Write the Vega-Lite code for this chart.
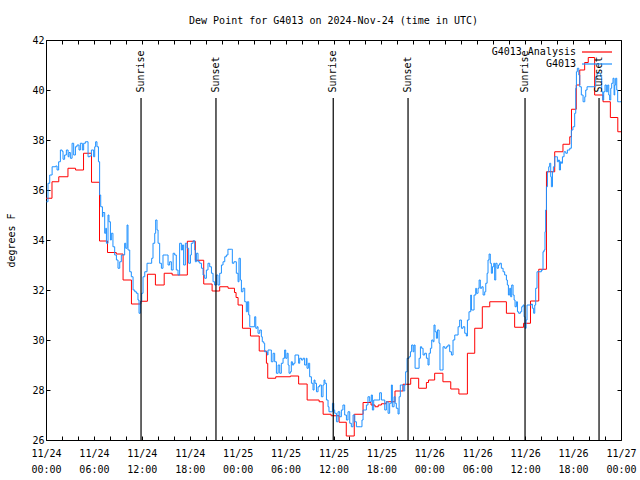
{
"$schema": "https://vega.github.io/schema/vega-lite/v6.json",
"width": 575, "height": 400,
"autosize": "none",
"padding": {"left": 46, "top": 40, "right": 19, "bottom": 40},
"background": "white",
"title": {"text": "Dew Point for G4013 on 2024-Nov-24 (time in UTC)", "font": "DejaVu Sans Mono", "fontSize": 10, "fontWeight": "normal", "anchor": "middle", "offset": 9, "color": "black"},
"config": {
 "view": {"stroke": "black", "strokeWidth": 1},
 "font": "DejaVu Sans Mono",
 "axis": {"labelFont": "DejaVu Sans Mono", "labelFontSize": 10, "labelColor": "black", "titleFont": "DejaVu Sans Mono", "titleFontSize": 10, "titleFontWeight": "normal", "titleColor": "black", "tickColor": "black", "domain": false, "grid": false},
 "legend": {"orient": "top-right", "offset": 6, "padding": 0, "symbolType": "M-3,0H3", "symbolSize": 100, "symbolStrokeWidth": 1.2, "labelAlign": "right", "labelOffset": -27, "labelFont": "DejaVu Sans Mono", "labelFontSize": 10, "labelColor": "black", "rowPadding": 1}
},
"datasets": {
 "sun": [
  {"t":"2024-11-24T11:54Z","label":"Sunrise"},{"t":"2024-11-24T21:17Z","label":"Sunset"},
  {"t":"2024-11-25T11:58Z","label":"Sunrise"},{"t":"2024-11-25T21:20Z","label":"Sunset"},
  {"t":"2024-11-26T11:59Z","label":"Sunrise"},{"t":"2024-11-26T21:15Z","label":"Sunset"}
 ],
 "obs": [
  {"s":"G4013 Analysis","t":"2024-11-24T00:00Z","v":35.67},
  {"s":"G4013 Analysis","t":"2024-11-24T00:45Z","v":36.33},
  {"s":"G4013 Analysis","t":"2024-11-24T01:36Z","v":36.53},
  {"s":"G4013 Analysis","t":"2024-11-24T02:45Z","v":36.87},
  {"s":"G4013 Analysis","t":"2024-11-24T03:42Z","v":36.8},
  {"s":"G4013 Analysis","t":"2024-11-24T04:42Z","v":37.47},
  {"s":"G4013 Analysis","t":"2024-11-24T05:42Z","v":36.31},
  {"s":"G4013 Analysis","t":"2024-11-24T06:42Z","v":33.96},
  {"s":"G4013 Analysis","t":"2024-11-24T07:42Z","v":33.5},
  {"s":"G4013 Analysis","t":"2024-11-24T08:48Z","v":33.44},
  {"s":"G4013 Analysis","t":"2024-11-24T09:39Z","v":32.4},
  {"s":"G4013 Analysis","t":"2024-11-24T10:42Z","v":31.44},
  {"s":"G4013 Analysis","t":"2024-11-24T11:52Z","v":31.55},
  {"s":"G4013 Analysis","t":"2024-11-24T12:42Z","v":32.63},
  {"s":"G4013 Analysis","t":"2024-11-24T13:42Z","v":32.2},
  {"s":"G4013 Analysis","t":"2024-11-24T14:48Z","v":32.67},
  {"s":"G4013 Analysis","t":"2024-11-24T15:48Z","v":32.6},
  {"s":"G4013 Analysis","t":"2024-11-24T17:42Z","v":33.95},
  {"s":"G4013 Analysis","t":"2024-11-24T18:42Z","v":33.19},
  {"s":"G4013 Analysis","t":"2024-11-24T19:45Z","v":32.24},
  {"s":"G4013 Analysis","t":"2024-11-24T20:48Z","v":31.96},
  {"s":"G4013 Analysis","t":"2024-11-24T21:45Z","v":32.13},
  {"s":"G4013 Analysis","t":"2024-11-24T22:48Z","v":32.07},
  {"s":"G4013 Analysis","t":"2024-11-24T23:36Z","v":31.9},
  {"s":"G4013 Analysis","t":"2024-11-24T23:48Z","v":31.7},
  {"s":"G4013 Analysis","t":"2024-11-25T00:03Z","v":31.4},
  {"s":"G4013 Analysis","t":"2024-11-25T00:36Z","v":30.47},
  {"s":"G4013 Analysis","t":"2024-11-25T01:36Z","v":30.16},
  {"s":"G4013 Analysis","t":"2024-11-25T02:42Z","v":29.56},
  {"s":"G4013 Analysis","t":"2024-11-25T03:36Z","v":29.07},
  {"s":"G4013 Analysis","t":"2024-11-25T03:46Z","v":28.47},
  {"s":"G4013 Analysis","t":"2024-11-25T04:46Z","v":28.53},
  {"s":"G4013 Analysis","t":"2024-11-25T06:36Z","v":28.56},
  {"s":"G4013 Analysis","t":"2024-11-25T07:38Z","v":28.24},
  {"s":"G4013 Analysis","t":"2024-11-25T08:42Z","v":27.6},
  {"s":"G4013 Analysis","t":"2024-11-25T10:12Z","v":27.53},
  {"s":"G4013 Analysis","t":"2024-11-25T10:42Z","v":27.03},
  {"s":"G4013 Analysis","t":"2024-11-25T11:42Z","v":26.97},
  {"s":"G4013 Analysis","t":"2024-11-25T12:42Z","v":26.71},
  {"s":"G4013 Analysis","t":"2024-11-25T13:36Z","v":26.16},
  {"s":"G4013 Analysis","t":"2024-11-25T14:36Z","v":27.03},
  {"s":"G4013 Analysis","t":"2024-11-25T15:42Z","v":27.5},
  {"s":"G4013 Analysis","t":"2024-11-25T16:42Z","v":27.4},
  {"s":"G4013 Analysis","t":"2024-11-25T17:12Z","v":27.33},
  {"s":"G4013 Analysis","t":"2024-11-25T17:36Z","v":27.4},
  {"s":"G4013 Analysis","t":"2024-11-25T18:00Z","v":27.45},
  {"s":"G4013 Analysis","t":"2024-11-25T18:36Z","v":27.53},
  {"s":"G4013 Analysis","t":"2024-11-25T19:42Z","v":27.96},
  {"s":"G4013 Analysis","t":"2024-11-25T20:42Z","v":28.23},
  {"s":"G4013 Analysis","t":"2024-11-25T21:40Z","v":28.47},
  {"s":"G4013 Analysis","t":"2024-11-25T22:40Z","v":28.07},
  {"s":"G4013 Analysis","t":"2024-11-25T23:38Z","v":28.3},
  {"s":"G4013 Analysis","t":"2024-11-25T23:54Z","v":28.4},
  {"s":"G4013 Analysis","t":"2024-11-26T00:40Z","v":28.67},
  {"s":"G4013 Analysis","t":"2024-11-26T01:42Z","v":28.33},
  {"s":"G4013 Analysis","t":"2024-11-26T02:41Z","v":28.04},
  {"s":"G4013 Analysis","t":"2024-11-26T03:42Z","v":27.84},
  {"s":"G4013 Analysis","t":"2024-11-26T04:46Z","v":29.47},
  {"s":"G4013 Analysis","t":"2024-11-26T05:41Z","v":30.47},
  {"s":"G4013 Analysis","t":"2024-11-26T06:38Z","v":31.33},
  {"s":"G4013 Analysis","t":"2024-11-26T07:34Z","v":31.53},
  {"s":"G4013 Analysis","t":"2024-11-26T09:39Z","v":31.07},
  {"s":"G4013 Analysis","t":"2024-11-26T10:41Z","v":30.51},
  {"s":"G4013 Analysis","t":"2024-11-26T11:48Z","v":30.67},
  {"s":"G4013 Analysis","t":"2024-11-26T12:40Z","v":31.56},
  {"s":"G4013 Analysis","t":"2024-11-26T13:42Z","v":32.83},
  {"s":"G4013 Analysis","t":"2024-11-26T14:40Z","v":36.73},
  {"s":"G4013 Analysis","t":"2024-11-26T15:42Z","v":37.53},
  {"s":"G4013 Analysis","t":"2024-11-26T16:44Z","v":37.83},
  {"s":"G4013 Analysis","t":"2024-11-26T17:35Z","v":38.13},
  {"s":"G4013 Analysis","t":"2024-11-26T17:48Z","v":39.23},
  {"s":"G4013 Analysis","t":"2024-11-26T18:24Z","v":40.2},
  {"s":"G4013 Analysis","t":"2024-11-26T18:50Z","v":40.8},
  {"s":"G4013 Analysis","t":"2024-11-26T19:27Z","v":41.1},
  {"s":"G4013 Analysis","t":"2024-11-26T19:54Z","v":41.3},
  {"s":"G4013 Analysis","t":"2024-11-26T20:42Z","v":39.8},
  {"s":"G4013 Analysis","t":"2024-11-26T21:45Z","v":39.53},
  {"s":"G4013 Analysis","t":"2024-11-26T22:40Z","v":38.9},
  {"s":"G4013 Analysis","t":"2024-11-26T23:36Z","v":38.33},
  {"s":"G4013 Analysis","t":"2024-11-27T00:00Z","v":38.33},
  {"s":"G4013","t":"2024-11-24T00:03Z","v":35.53},
  {"s":"G4013","t":"2024-11-24T00:15Z","v":36.27},
  {"s":"G4013","t":"2024-11-24T00:28Z","v":36.6},
  {"s":"G4013","t":"2024-11-24T00:46Z","v":36.93},
  {"s":"G4013","t":"2024-11-24T01:13Z","v":36.96},
  {"s":"G4013","t":"2024-11-24T01:23Z","v":36.8},
  {"s":"G4013","t":"2024-11-24T01:35Z","v":37.13},
  {"s":"G4013","t":"2024-11-24T01:48Z","v":37.6},
  {"s":"G4013","t":"2024-11-24T02:01Z","v":37.55},
  {"s":"G4013","t":"2024-11-24T02:08Z","v":37.23},
  {"s":"G4013","t":"2024-11-24T02:20Z","v":37.4},
  {"s":"G4013","t":"2024-11-24T02:33Z","v":37.6},
  {"s":"G4013","t":"2024-11-24T02:46Z","v":37.33},
  {"s":"G4013","t":"2024-11-24T02:53Z","v":37.5},
  {"s":"G4013","t":"2024-11-24T03:03Z","v":37.27},
  {"s":"G4013","t":"2024-11-24T03:16Z","v":37.87},
  {"s":"G4013","t":"2024-11-24T03:28Z","v":37.4},
  {"s":"G4013","t":"2024-11-24T03:41Z","v":37.73},
  {"s":"G4013","t":"2024-11-24T03:53Z","v":37.8},
  {"s":"G4013","t":"2024-11-24T04:08Z","v":37.6},
  {"s":"G4013","t":"2024-11-24T04:18Z","v":37.87},
  {"s":"G4013","t":"2024-11-24T04:33Z","v":37.6},
  {"s":"G4013","t":"2024-11-24T04:43Z","v":37.87},
  {"s":"G4013","t":"2024-11-24T04:56Z","v":37.93},
  {"s":"G4013","t":"2024-11-24T05:08Z","v":37.93},
  {"s":"G4013","t":"2024-11-24T05:16Z","v":37.33},
  {"s":"G4013","t":"2024-11-24T05:28Z","v":37.36},
  {"s":"G4013","t":"2024-11-24T05:41Z","v":37.6},
  {"s":"G4013","t":"2024-11-24T05:58Z","v":37.33},
  {"s":"G4013","t":"2024-11-24T06:06Z","v":37.73},
  {"s":"G4013","t":"2024-11-24T06:13Z","v":37.93},
  {"s":"G4013","t":"2024-11-24T06:23Z","v":37.73},
  {"s":"G4013","t":"2024-11-24T06:34Z","v":37.13},
  {"s":"G4013","t":"2024-11-24T06:43Z","v":35.8},
  {"s":"G4013","t":"2024-11-24T06:51Z","v":35.33},
  {"s":"G4013","t":"2024-11-24T07:04Z","v":34.93},
  {"s":"G4013","t":"2024-11-24T07:08Z","v":35.1},
  {"s":"G4013","t":"2024-11-24T07:21Z","v":34.27},
  {"s":"G4013","t":"2024-11-24T07:29Z","v":34.47},
  {"s":"G4013","t":"2024-11-24T07:34Z","v":33.87},
  {"s":"G4013","t":"2024-11-24T07:46Z","v":35.0},
  {"s":"G4013","t":"2024-11-24T07:53Z","v":34.73},
  {"s":"G4013","t":"2024-11-24T08:04Z","v":34.0},
  {"s":"G4013","t":"2024-11-24T08:11Z","v":34.27},
  {"s":"G4013","t":"2024-11-24T08:23Z","v":33.73},
  {"s":"G4013","t":"2024-11-24T08:36Z","v":33.4},
  {"s":"G4013","t":"2024-11-24T08:49Z","v":33.2},
  {"s":"G4013","t":"2024-11-24T09:01Z","v":32.87},
  {"s":"G4013","t":"2024-11-24T09:14Z","v":33.13},
  {"s":"G4013","t":"2024-11-24T09:26Z","v":33.4},
  {"s":"G4013","t":"2024-11-24T09:39Z","v":33.4},
  {"s":"G4013","t":"2024-11-24T09:51Z","v":33.87},
  {"s":"G4013","t":"2024-11-24T09:59Z","v":33.67},
  {"s":"G4013","t":"2024-11-24T10:09Z","v":34.6},
  {"s":"G4013","t":"2024-11-24T10:16Z","v":33.6},
  {"s":"G4013","t":"2024-11-24T10:29Z","v":32.73},
  {"s":"G4013","t":"2024-11-24T10:41Z","v":32.53},
  {"s":"G4013","t":"2024-11-24T10:54Z","v":32.0},
  {"s":"G4013","t":"2024-11-24T11:07Z","v":31.93},
  {"s":"G4013","t":"2024-11-24T11:19Z","v":31.87},
  {"s":"G4013","t":"2024-11-24T11:31Z","v":31.6},
  {"s":"G4013","t":"2024-11-24T11:39Z","v":31.07},
  {"s":"G4013","t":"2024-11-24T11:49Z","v":31.53},
  {"s":"G4013","t":"2024-11-24T11:59Z","v":31.87},
  {"s":"G4013","t":"2024-11-24T12:09Z","v":32.53},
  {"s":"G4013","t":"2024-11-24T12:22Z","v":32.73},
  {"s":"G4013","t":"2024-11-24T12:39Z","v":33.07},
  {"s":"G4013","t":"2024-11-24T12:59Z","v":33.07},
  {"s":"G4013","t":"2024-11-24T13:14Z","v":33.27},
  {"s":"G4013","t":"2024-11-24T13:24Z","v":33.87},
  {"s":"G4013","t":"2024-11-24T13:37Z","v":34.27},
  {"s":"G4013","t":"2024-11-24T13:44Z","v":34.8},
  {"s":"G4013","t":"2024-11-24T13:54Z","v":34.4},
  {"s":"G4013","t":"2024-11-24T14:02Z","v":33.87},
  {"s":"G4013","t":"2024-11-24T14:14Z","v":33.07},
  {"s":"G4013","t":"2024-11-24T14:27Z","v":32.87},
  {"s":"G4013","t":"2024-11-24T14:39Z","v":33.4},
  {"s":"G4013","t":"2024-11-24T15:04Z","v":33.4},
  {"s":"G4013","t":"2024-11-24T15:17Z","v":33.0},
  {"s":"G4013","t":"2024-11-24T15:29Z","v":33.13},
  {"s":"G4013","t":"2024-11-24T15:42Z","v":32.8},
  {"s":"G4013","t":"2024-11-24T15:55Z","v":33.47},
  {"s":"G4013","t":"2024-11-24T16:07Z","v":33.4},
  {"s":"G4013","t":"2024-11-24T16:19Z","v":32.8},
  {"s":"G4013","t":"2024-11-24T16:32Z","v":32.6},
  {"s":"G4013","t":"2024-11-24T16:44Z","v":33.87},
  {"s":"G4013","t":"2024-11-24T16:57Z","v":33.6},
  {"s":"G4013","t":"2024-11-24T17:05Z","v":33.8},
  {"s":"G4013","t":"2024-11-24T17:14Z","v":33.0},
  {"s":"G4013","t":"2024-11-24T17:27Z","v":33.87},
  {"s":"G4013","t":"2024-11-24T17:40Z","v":33.67},
  {"s":"G4013","t":"2024-11-24T17:52Z","v":33.07},
  {"s":"G4013","t":"2024-11-24T18:05Z","v":33.4},
  {"s":"G4013","t":"2024-11-24T18:12Z","v":33.87},
  {"s":"G4013","t":"2024-11-24T18:25Z","v":33.97},
  {"s":"G4013","t":"2024-11-24T18:37Z","v":33.6},
  {"s":"G4013","t":"2024-11-24T18:42Z","v":33.13},
  {"s":"G4013","t":"2024-11-24T18:50Z","v":33.47},
  {"s":"G4013","t":"2024-11-24T19:02Z","v":33.13},
  {"s":"G4013","t":"2024-11-24T19:15Z","v":33.07},
  {"s":"G4013","t":"2024-11-24T19:28Z","v":32.87},
  {"s":"G4013","t":"2024-11-24T19:40Z","v":32.6},
  {"s":"G4013","t":"2024-11-24T19:52Z","v":32.47},
  {"s":"G4013","t":"2024-11-24T20:05Z","v":32.8},
  {"s":"G4013","t":"2024-11-24T20:17Z","v":33.07},
  {"s":"G4013","t":"2024-11-24T20:30Z","v":32.93},
  {"s":"G4013","t":"2024-11-24T20:43Z","v":32.67},
  {"s":"G4013","t":"2024-11-24T20:55Z","v":32.33},
  {"s":"G4013","t":"2024-11-24T21:07Z","v":32.2},
  {"s":"G4013","t":"2024-11-24T21:20Z","v":32.6},
  {"s":"G4013","t":"2024-11-24T21:32Z","v":32.2},
  {"s":"G4013","t":"2024-11-24T21:45Z","v":32.67},
  {"s":"G4013","t":"2024-11-24T21:58Z","v":33.0},
  {"s":"G4013","t":"2024-11-24T22:10Z","v":33.13},
  {"s":"G4013","t":"2024-11-24T22:23Z","v":33.33},
  {"s":"G4013","t":"2024-11-24T22:35Z","v":33.4},
  {"s":"G4013","t":"2024-11-24T22:47Z","v":33.63},
  {"s":"G4013","t":"2024-11-24T23:13Z","v":33.63},
  {"s":"G4013","t":"2024-11-24T23:20Z","v":33.07},
  {"s":"G4013","t":"2024-11-24T23:32Z","v":33.13},
  {"s":"G4013","t":"2024-11-24T23:50Z","v":32.67},
  {"s":"G4013","t":"2024-11-25T00:03Z","v":32.33},
  {"s":"G4013","t":"2024-11-25T00:10Z","v":33.27},
  {"s":"G4013","t":"2024-11-25T00:20Z","v":32.4},
  {"s":"G4013","t":"2024-11-25T00:28Z","v":31.93},
  {"s":"G4013","t":"2024-11-25T00:40Z","v":32.07},
  {"s":"G4013","t":"2024-11-25T00:53Z","v":31.53},
  {"s":"G4013","t":"2024-11-25T01:05Z","v":31.13},
  {"s":"G4013","t":"2024-11-25T01:13Z","v":31.53},
  {"s":"G4013","t":"2024-11-25T01:23Z","v":31.0},
  {"s":"G4013","t":"2024-11-25T01:31Z","v":30.53},
  {"s":"G4013","t":"2024-11-25T01:55Z","v":30.53},
  {"s":"G4013","t":"2024-11-25T02:08Z","v":30.93},
  {"s":"G4013","t":"2024-11-25T02:16Z","v":30.47},
  {"s":"G4013","t":"2024-11-25T02:26Z","v":30.53},
  {"s":"G4013","t":"2024-11-25T02:33Z","v":30.27},
  {"s":"G4013","t":"2024-11-25T02:46Z","v":30.4},
  {"s":"G4013","t":"2024-11-25T02:58Z","v":30.13},
  {"s":"G4013","t":"2024-11-25T03:05Z","v":29.93},
  {"s":"G4013","t":"2024-11-25T03:16Z","v":29.87},
  {"s":"G4013","t":"2024-11-25T03:23Z","v":29.53},
  {"s":"G4013","t":"2024-11-25T03:43Z","v":29.4},
  {"s":"G4013","t":"2024-11-25T03:48Z","v":29.6},
  {"s":"G4013","t":"2024-11-25T04:06Z","v":29.6},
  {"s":"G4013","t":"2024-11-25T04:13Z","v":29.13},
  {"s":"G4013","t":"2024-11-25T04:26Z","v":29.47},
  {"s":"G4013","t":"2024-11-25T04:38Z","v":29.13},
  {"s":"G4013","t":"2024-11-25T04:51Z","v":28.67},
  {"s":"G4013","t":"2024-11-25T05:04Z","v":29.0},
  {"s":"G4013","t":"2024-11-25T05:16Z","v":28.67},
  {"s":"G4013","t":"2024-11-25T05:28Z","v":29.07},
  {"s":"G4013","t":"2024-11-25T05:41Z","v":29.27},
  {"s":"G4013","t":"2024-11-25T05:53Z","v":29.6},
  {"s":"G4013","t":"2024-11-25T06:01Z","v":29.27},
  {"s":"G4013","t":"2024-11-25T06:11Z","v":29.47},
  {"s":"G4013","t":"2024-11-25T06:19Z","v":29.0},
  {"s":"G4013","t":"2024-11-25T06:26Z","v":28.67},
  {"s":"G4013","t":"2024-11-25T06:36Z","v":28.73},
  {"s":"G4013","t":"2024-11-25T06:43Z","v":29.13},
  {"s":"G4013","t":"2024-11-25T06:51Z","v":29.0},
  {"s":"G4013","t":"2024-11-25T07:01Z","v":29.07},
  {"s":"G4013","t":"2024-11-25T07:11Z","v":29.4},
  {"s":"G4013","t":"2024-11-25T07:26Z","v":29.4},
  {"s":"G4013","t":"2024-11-25T07:38Z","v":29.07},
  {"s":"G4013","t":"2024-11-25T07:46Z","v":29.27},
  {"s":"G4013","t":"2024-11-25T07:59Z","v":29.2},
  {"s":"G4013","t":"2024-11-25T08:11Z","v":29.27},
  {"s":"G4013","t":"2024-11-25T08:23Z","v":29.0},
  {"s":"G4013","t":"2024-11-25T08:36Z","v":29.27},
  {"s":"G4013","t":"2024-11-25T08:41Z","v":28.87},
  {"s":"G4013","t":"2024-11-25T08:51Z","v":29.07},
  {"s":"G4013","t":"2024-11-25T09:01Z","v":28.53},
  {"s":"G4013","t":"2024-11-25T09:14Z","v":28.27},
  {"s":"G4013","t":"2024-11-25T09:26Z","v":28.0},
  {"s":"G4013","t":"2024-11-25T09:34Z","v":28.4},
  {"s":"G4013","t":"2024-11-25T09:41Z","v":28.27},
  {"s":"G4013","t":"2024-11-25T09:52Z","v":27.93},
  {"s":"G4013","t":"2024-11-25T10:04Z","v":28.13},
  {"s":"G4013","t":"2024-11-25T10:16Z","v":28.2},
  {"s":"G4013","t":"2024-11-25T10:29Z","v":27.73},
  {"s":"G4013","t":"2024-11-25T10:41Z","v":28.2},
  {"s":"G4013","t":"2024-11-25T10:49Z","v":28.4},
  {"s":"G4013","t":"2024-11-25T10:56Z","v":28.27},
  {"s":"G4013","t":"2024-11-25T11:07Z","v":27.6},
  {"s":"G4013","t":"2024-11-25T11:19Z","v":27.33},
  {"s":"G4013","t":"2024-11-25T11:26Z","v":27.13},
  {"s":"G4013","t":"2024-11-25T11:44Z","v":27.13},
  {"s":"G4013","t":"2024-11-25T11:52Z","v":27.47},
  {"s":"G4013","t":"2024-11-25T12:02Z","v":27.2},
  {"s":"G4013","t":"2024-11-25T12:09Z","v":27.07},
  {"s":"G4013","t":"2024-11-25T12:22Z","v":26.73},
  {"s":"G4013","t":"2024-11-25T12:34Z","v":27.13},
  {"s":"G4013","t":"2024-11-25T12:47Z","v":26.93},
  {"s":"G4013","t":"2024-11-25T12:59Z","v":27.2},
  {"s":"G4013","t":"2024-11-25T13:11Z","v":27.4},
  {"s":"G4013","t":"2024-11-25T13:24Z","v":27.0},
  {"s":"G4013","t":"2024-11-25T13:37Z","v":26.8},
  {"s":"G4013","t":"2024-11-25T13:49Z","v":27.13},
  {"s":"G4013","t":"2024-11-25T14:02Z","v":26.67},
  {"s":"G4013","t":"2024-11-25T14:14Z","v":26.53},
  {"s":"G4013","t":"2024-11-25T14:27Z","v":27.0},
  {"s":"G4013","t":"2024-11-25T14:40Z","v":26.73},
  {"s":"G4013","t":"2024-11-25T14:52Z","v":26.53},
  {"s":"G4013","t":"2024-11-25T15:25Z","v":26.53},
  {"s":"G4013","t":"2024-11-25T15:34Z","v":26.8},
  {"s":"G4013","t":"2024-11-25T15:42Z","v":27.2},
  {"s":"G4013","t":"2024-11-25T15:55Z","v":27.2},
  {"s":"G4013","t":"2024-11-25T16:07Z","v":27.4},
  {"s":"G4013","t":"2024-11-25T16:19Z","v":27.73},
  {"s":"G4013","t":"2024-11-25T16:32Z","v":27.53},
  {"s":"G4013","t":"2024-11-25T16:44Z","v":27.8},
  {"s":"G4013","t":"2024-11-25T16:52Z","v":27.2},
  {"s":"G4013","t":"2024-11-25T17:02Z","v":27.6},
  {"s":"G4013","t":"2024-11-25T17:35Z","v":27.6},
  {"s":"G4013","t":"2024-11-25T17:47Z","v":27.89},
  {"s":"G4013","t":"2024-11-25T18:00Z","v":27.6},
  {"s":"G4013","t":"2024-11-25T18:12Z","v":27.6},
  {"s":"G4013","t":"2024-11-25T18:25Z","v":27.2},
  {"s":"G4013","t":"2024-11-25T18:37Z","v":27.53},
  {"s":"G4013","t":"2024-11-25T18:50Z","v":27.07},
  {"s":"G4013","t":"2024-11-25T19:02Z","v":27.47},
  {"s":"G4013","t":"2024-11-25T19:15Z","v":28.2},
  {"s":"G4013","t":"2024-11-25T19:22Z","v":27.33},
  {"s":"G4013","t":"2024-11-25T19:35Z","v":27.73},
  {"s":"G4013","t":"2024-11-25T19:43Z","v":27.47},
  {"s":"G4013","t":"2024-11-25T19:52Z","v":27.27},
  {"s":"G4013","t":"2024-11-25T20:05Z","v":27.04},
  {"s":"G4013","t":"2024-11-25T20:13Z","v":27.73},
  {"s":"G4013","t":"2024-11-25T20:22Z","v":28.2},
  {"s":"G4013","t":"2024-11-25T20:30Z","v":28.2},
  {"s":"G4013","t":"2024-11-25T20:43Z","v":27.96},
  {"s":"G4013","t":"2024-11-25T20:55Z","v":28.2},
  {"s":"G4013","t":"2024-11-25T21:02Z","v":28.73},
  {"s":"G4013","t":"2024-11-25T21:13Z","v":29.27},
  {"s":"G4013","t":"2024-11-25T21:28Z","v":29.33},
  {"s":"G4013","t":"2024-11-25T21:38Z","v":29.53},
  {"s":"G4013","t":"2024-11-25T21:47Z","v":29.8},
  {"s":"G4013","t":"2024-11-25T21:58Z","v":29.53},
  {"s":"G4013","t":"2024-11-25T22:05Z","v":29.8},
  {"s":"G4013","t":"2024-11-25T22:13Z","v":28.87},
  {"s":"G4013","t":"2024-11-25T22:35Z","v":28.87},
  {"s":"G4013","t":"2024-11-25T22:43Z","v":29.27},
  {"s":"G4013","t":"2024-11-25T22:53Z","v":29.73},
  {"s":"G4013","t":"2024-11-25T23:02Z","v":29.67},
  {"s":"G4013","t":"2024-11-25T23:13Z","v":29.4},
  {"s":"G4013","t":"2024-11-25T23:25Z","v":29.47},
  {"s":"G4013","t":"2024-11-25T23:38Z","v":29.27},
  {"s":"G4013","t":"2024-11-25T23:50Z","v":29.0},
  {"s":"G4013","t":"2024-11-25T23:58Z","v":29.47},
  {"s":"G4013","t":"2024-11-26T00:08Z","v":29.67},
  {"s":"G4013","t":"2024-11-26T00:18Z","v":30.0},
  {"s":"G4013","t":"2024-11-26T00:28Z","v":29.93},
  {"s":"G4013","t":"2024-11-26T00:35Z","v":30.6},
  {"s":"G4013","t":"2024-11-26T00:43Z","v":30.33},
  {"s":"G4013","t":"2024-11-26T00:53Z","v":30.07},
  {"s":"G4013","t":"2024-11-26T01:01Z","v":30.4},
  {"s":"G4013","t":"2024-11-26T01:13Z","v":29.87},
  {"s":"G4013","t":"2024-11-26T01:20Z","v":28.8},
  {"s":"G4013","t":"2024-11-26T01:33Z","v":28.8},
  {"s":"G4013","t":"2024-11-26T01:43Z","v":29.73},
  {"s":"G4013","t":"2024-11-26T01:56Z","v":29.67},
  {"s":"G4013","t":"2024-11-26T02:08Z","v":29.73},
  {"s":"G4013","t":"2024-11-26T02:20Z","v":29.8},
  {"s":"G4013","t":"2024-11-26T02:33Z","v":29.53},
  {"s":"G4013","t":"2024-11-26T02:46Z","v":29.4},
  {"s":"G4013","t":"2024-11-26T02:58Z","v":30.0},
  {"s":"G4013","t":"2024-11-26T03:11Z","v":30.2},
  {"s":"G4013","t":"2024-11-26T03:28Z","v":30.2},
  {"s":"G4013","t":"2024-11-26T03:36Z","v":30.53},
  {"s":"G4013","t":"2024-11-26T03:48Z","v":30.8},
  {"s":"G4013","t":"2024-11-26T04:01Z","v":30.47},
  {"s":"G4013","t":"2024-11-26T04:13Z","v":30.53},
  {"s":"G4013","t":"2024-11-26T04:26Z","v":30.27},
  {"s":"G4013","t":"2024-11-26T04:38Z","v":30.16},
  {"s":"G4013","t":"2024-11-26T04:46Z","v":30.8},
  {"s":"G4013","t":"2024-11-26T04:58Z","v":31.13},
  {"s":"G4013","t":"2024-11-26T05:11Z","v":31.8},
  {"s":"G4013","t":"2024-11-26T05:16Z","v":31.2},
  {"s":"G4013","t":"2024-11-26T05:28Z","v":31.2},
  {"s":"G4013","t":"2024-11-26T05:36Z","v":31.8},
  {"s":"G4013","t":"2024-11-26T05:49Z","v":32.07},
  {"s":"G4013","t":"2024-11-26T05:53Z","v":31.87},
  {"s":"G4013","t":"2024-11-26T06:06Z","v":32.07},
  {"s":"G4013","t":"2024-11-26T06:14Z","v":32.4},
  {"s":"G4013","t":"2024-11-26T06:23Z","v":32.07},
  {"s":"G4013","t":"2024-11-26T06:34Z","v":32.13},
  {"s":"G4013","t":"2024-11-26T06:44Z","v":31.8},
  {"s":"G4013","t":"2024-11-26T06:56Z","v":31.93},
  {"s":"G4013","t":"2024-11-26T07:04Z","v":32.27},
  {"s":"G4013","t":"2024-11-26T07:14Z","v":32.67},
  {"s":"G4013","t":"2024-11-26T07:21Z","v":33.2},
  {"s":"G4013","t":"2024-11-26T07:29Z","v":33.44},
  {"s":"G4013","t":"2024-11-26T07:38Z","v":33.07},
  {"s":"G4013","t":"2024-11-26T07:46Z","v":32.67},
  {"s":"G4013","t":"2024-11-26T07:54Z","v":32.93},
  {"s":"G4013","t":"2024-11-26T08:04Z","v":33.07},
  {"s":"G4013","t":"2024-11-26T08:11Z","v":32.4},
  {"s":"G4013","t":"2024-11-26T08:19Z","v":33.07},
  {"s":"G4013","t":"2024-11-26T08:29Z","v":32.87},
  {"s":"G4013","t":"2024-11-26T08:39Z","v":33.0},
  {"s":"G4013","t":"2024-11-26T08:49Z","v":33.07},
  {"s":"G4013","t":"2024-11-26T09:01Z","v":32.87},
  {"s":"G4013","t":"2024-11-26T09:14Z","v":32.73},
  {"s":"G4013","t":"2024-11-26T09:26Z","v":32.6},
  {"s":"G4013","t":"2024-11-26T09:39Z","v":32.4},
  {"s":"G4013","t":"2024-11-26T09:46Z","v":32.2},
  {"s":"G4013","t":"2024-11-26T09:54Z","v":31.8},
  {"s":"G4013","t":"2024-11-26T10:04Z","v":32.07},
  {"s":"G4013","t":"2024-11-26T10:11Z","v":31.73},
  {"s":"G4013","t":"2024-11-26T10:19Z","v":32.2},
  {"s":"G4013","t":"2024-11-26T10:29Z","v":31.8},
  {"s":"G4013","t":"2024-11-26T10:37Z","v":31.6},
  {"s":"G4013","t":"2024-11-26T10:44Z","v":31.33},
  {"s":"G4013","t":"2024-11-26T10:54Z","v":31.53},
  {"s":"G4013","t":"2024-11-26T11:02Z","v":31.13},
  {"s":"G4013","t":"2024-11-26T11:11Z","v":31.07},
  {"s":"G4013","t":"2024-11-26T11:24Z","v":31.13},
  {"s":"G4013","t":"2024-11-26T11:34Z","v":31.33},
  {"s":"G4013","t":"2024-11-26T11:44Z","v":31.4},
  {"s":"G4013","t":"2024-11-26T11:52Z","v":30.93},
  {"s":"G4013","t":"2024-11-26T11:59Z","v":30.47},
  {"s":"G4013","t":"2024-11-26T12:07Z","v":30.8},
  {"s":"G4013","t":"2024-11-26T12:14Z","v":31.4},
  {"s":"G4013","t":"2024-11-26T12:47Z","v":31.44},
  {"s":"G4013","t":"2024-11-26T12:54Z","v":31.27},
  {"s":"G4013","t":"2024-11-26T13:04Z","v":31.07},
  {"s":"G4013","t":"2024-11-26T13:12Z","v":31.4},
  {"s":"G4013","t":"2024-11-26T13:19Z","v":32.07},
  {"s":"G4013","t":"2024-11-26T13:29Z","v":32.73},
  {"s":"G4013","t":"2024-11-26T14:02Z","v":32.8},
  {"s":"G4013","t":"2024-11-26T14:14Z","v":33.53},
  {"s":"G4013","t":"2024-11-26T14:22Z","v":33.6},
  {"s":"G4013","t":"2024-11-26T14:29Z","v":34.33},
  {"s":"G4013","t":"2024-11-26T14:34Z","v":35.2},
  {"s":"G4013","t":"2024-11-26T14:40Z","v":36.13},
  {"s":"G4013","t":"2024-11-26T14:47Z","v":36.73},
  {"s":"G4013","t":"2024-11-26T14:57Z","v":36.93},
  {"s":"G4013","t":"2024-11-26T15:04Z","v":37.07},
  {"s":"G4013","t":"2024-11-26T15:12Z","v":36.53},
  {"s":"G4013","t":"2024-11-26T15:17Z","v":36.13},
  {"s":"G4013","t":"2024-11-26T15:25Z","v":36.73},
  {"s":"G4013","t":"2024-11-26T15:32Z","v":36.93},
  {"s":"G4013","t":"2024-11-26T15:42Z","v":37.33},
  {"s":"G4013","t":"2024-11-26T15:55Z","v":37.33},
  {"s":"G4013","t":"2024-11-26T16:02Z","v":37.13},
  {"s":"G4013","t":"2024-11-26T16:10Z","v":37.2},
  {"s":"G4013","t":"2024-11-26T16:17Z","v":36.8},
  {"s":"G4013","t":"2024-11-26T16:25Z","v":37.13},
  {"s":"G4013","t":"2024-11-26T16:32Z","v":37.07},
  {"s":"G4013","t":"2024-11-26T16:40Z","v":37.33},
  {"s":"G4013","t":"2024-11-26T16:52Z","v":37.53},
  {"s":"G4013","t":"2024-11-26T17:05Z","v":37.47},
  {"s":"G4013","t":"2024-11-26T17:17Z","v":37.6},
  {"s":"G4013","t":"2024-11-26T17:35Z","v":37.67},
  {"s":"G4013","t":"2024-11-26T17:47Z","v":38.4},
  {"s":"G4013","t":"2024-11-26T17:59Z","v":38.53},
  {"s":"G4013","t":"2024-11-26T18:12Z","v":39.07},
  {"s":"G4013","t":"2024-11-26T18:20Z","v":40.07},
  {"s":"G4013","t":"2024-11-26T18:25Z","v":40.73},
  {"s":"G4013","t":"2024-11-26T18:32Z","v":40.87},
  {"s":"G4013","t":"2024-11-26T18:43Z","v":40.6},
  {"s":"G4013","t":"2024-11-26T18:50Z","v":40.13},
  {"s":"G4013","t":"2024-11-26T19:02Z","v":39.8},
  {"s":"G4013","t":"2024-11-26T19:15Z","v":39.53},
  {"s":"G4013","t":"2024-11-26T19:28Z","v":39.73},
  {"s":"G4013","t":"2024-11-26T19:35Z","v":40.0},
  {"s":"G4013","t":"2024-11-26T19:45Z","v":40.13},
  {"s":"G4013","t":"2024-11-26T20:43Z","v":40.13},
  {"s":"G4013","t":"2024-11-26T20:50Z","v":40.53},
  {"s":"G4013","t":"2024-11-26T21:00Z","v":40.67},
  {"s":"G4013","t":"2024-11-26T21:15Z","v":40.67},
  {"s":"G4013","t":"2024-11-26T21:28Z","v":40.53},
  {"s":"G4013","t":"2024-11-26T21:35Z","v":39.93},
  {"s":"G4013","t":"2024-11-26T21:43Z","v":39.6},
  {"s":"G4013","t":"2024-11-26T21:50Z","v":39.93},
  {"s":"G4013","t":"2024-11-26T22:00Z","v":40.2},
  {"s":"G4013","t":"2024-11-26T22:10Z","v":39.93},
  {"s":"G4013","t":"2024-11-26T22:20Z","v":40.2},
  {"s":"G4013","t":"2024-11-26T22:28Z","v":39.8},
  {"s":"G4013","t":"2024-11-26T22:35Z","v":39.6},
  {"s":"G4013","t":"2024-11-26T22:43Z","v":40.07},
  {"s":"G4013","t":"2024-11-26T22:50Z","v":40.27},
  {"s":"G4013","t":"2024-11-26T23:00Z","v":40.47},
  {"s":"G4013","t":"2024-11-26T23:08Z","v":39.8},
  {"s":"G4013","t":"2024-11-26T23:13Z","v":40.2},
  {"s":"G4013","t":"2024-11-26T23:20Z","v":40.47},
  {"s":"G4013","t":"2024-11-26T23:28Z","v":40.0},
  {"s":"G4013","t":"2024-11-26T23:35Z","v":39.53},
  {"s":"G4013","t":"2024-11-26T23:50Z","v":39.53},
  {"s":"G4013","t":"2024-11-27T00:00Z","v":39.53}
 ]
},
"layer": [
 {
  "data": {"name": "obs"},
  "transform": [{"filter": "datum.s == 'G4013 Analysis'"}],
  "mark": {"type": "line", "interpolate": "step-after", "strokeWidth": 1},
  "encoding": {
   "x": {"field": "t", "type": "temporal",
         "scale": {"type": "utc", "domain": [1732406400000, 1732665600000], "nice": false},
         "axis": {"orient": "bottom", "title": null, "tickSize": -4, "labelPadding": 12, "labelAngle": 0, "labelOverlap": false, "labelFlush": false, "labelBaseline": "top", "labelLineHeight": 16,
                  "values": [1732406400000,1732413600000,1732420800000,1732428000000,1732435200000,1732442400000,1732449600000,1732456800000,1732464000000,1732471200000,1732478400000,1732485600000,1732492800000,1732500000000,1732507200000,1732514400000,1732521600000,1732528800000,1732536000000,1732543200000,1732550400000,1732557600000,1732564800000,1732572000000,1732579200000,1732586400000,1732593600000,1732600800000,1732608000000,1732615200000,1732622400000,1732629600000,1732636800000,1732644000000,1732651200000,1732658400000,1732665600000],
                  "labelExpr": "utchours(datum.value) % 6 == 0 ? [utcFormat(datum.value, '%m/%d'), utcFormat(datum.value, '%H:%M')] : ''"}},
   "y": {"field": "v", "type": "quantitative",
         "scale": {"domain": [26, 42], "nice": false, "zero": false},
         "axis": {"orient": "left", "title": "degrees F", "values": [26, 28, 30, 32, 34, 36, 38, 40, 42], "tickSize": -4, "labelPadding": 6, "titlePadding": 15}},
   "color": {"field": "s", "type": "nominal", "scale": {"domain": ["G4013 Analysis", "G4013"], "range": ["#ff0000", "#1e90ff"]}, "legend": {"title": null}}
  }
 },
 {
  "data": {"name": "obs"},
  "transform": [{"filter": "datum.s == 'G4013'"}],
  "mark": {"type": "line", "interpolate": "step-after", "strokeWidth": 1},
  "encoding": {
   "x": {"field": "t", "type": "temporal",
         "axis": {"orient": "top", "title": null, "labels": false, "tickSize": -4,
                  "values": [1732406400000,1732413600000,1732420800000,1732428000000,1732435200000,1732442400000,1732449600000,1732456800000,1732464000000,1732471200000,1732478400000,1732485600000,1732492800000,1732500000000,1732507200000,1732514400000,1732521600000,1732528800000,1732536000000,1732543200000,1732550400000,1732557600000,1732564800000,1732572000000,1732579200000,1732586400000,1732593600000,1732600800000,1732608000000,1732615200000,1732622400000,1732629600000,1732636800000,1732644000000,1732651200000,1732658400000,1732665600000]}},
   "y": {"field": "v", "type": "quantitative",
         "axis": {"orient": "right", "title": null, "labels": false, "values": [26, 28, 30, 32, 34, 36, 38, 40, 42], "tickSize": -4}},
   "color": {"field": "s", "type": "nominal", "legend": {"title": null}}
  }
 },
 {
  "data": {"name": "sun"},
  "mark": {"type": "rule", "color": "black", "strokeWidth": 1.2},
  "encoding": {
   "x": {"field": "t", "type": "temporal", "axis": null},
   "y": {"datum": 39.68, "axis": null},
   "y2": {"datum": 26}
  }
 },
 {
  "data": {"name": "sun"},
  "mark": {"type": "text", "angle": 270, "align": "left", "baseline": "middle", "font": "DejaVu Sans Mono", "fontSize": 10, "color": "black"},
  "encoding": {
   "x": {"field": "t", "type": "temporal", "axis": null},
   "y": {"datum": 39.9, "axis": null},
   "text": {"field": "label"}
  }
 }
],
"resolve": {"axis": {"x": "independent", "y": "independent"}}
}
